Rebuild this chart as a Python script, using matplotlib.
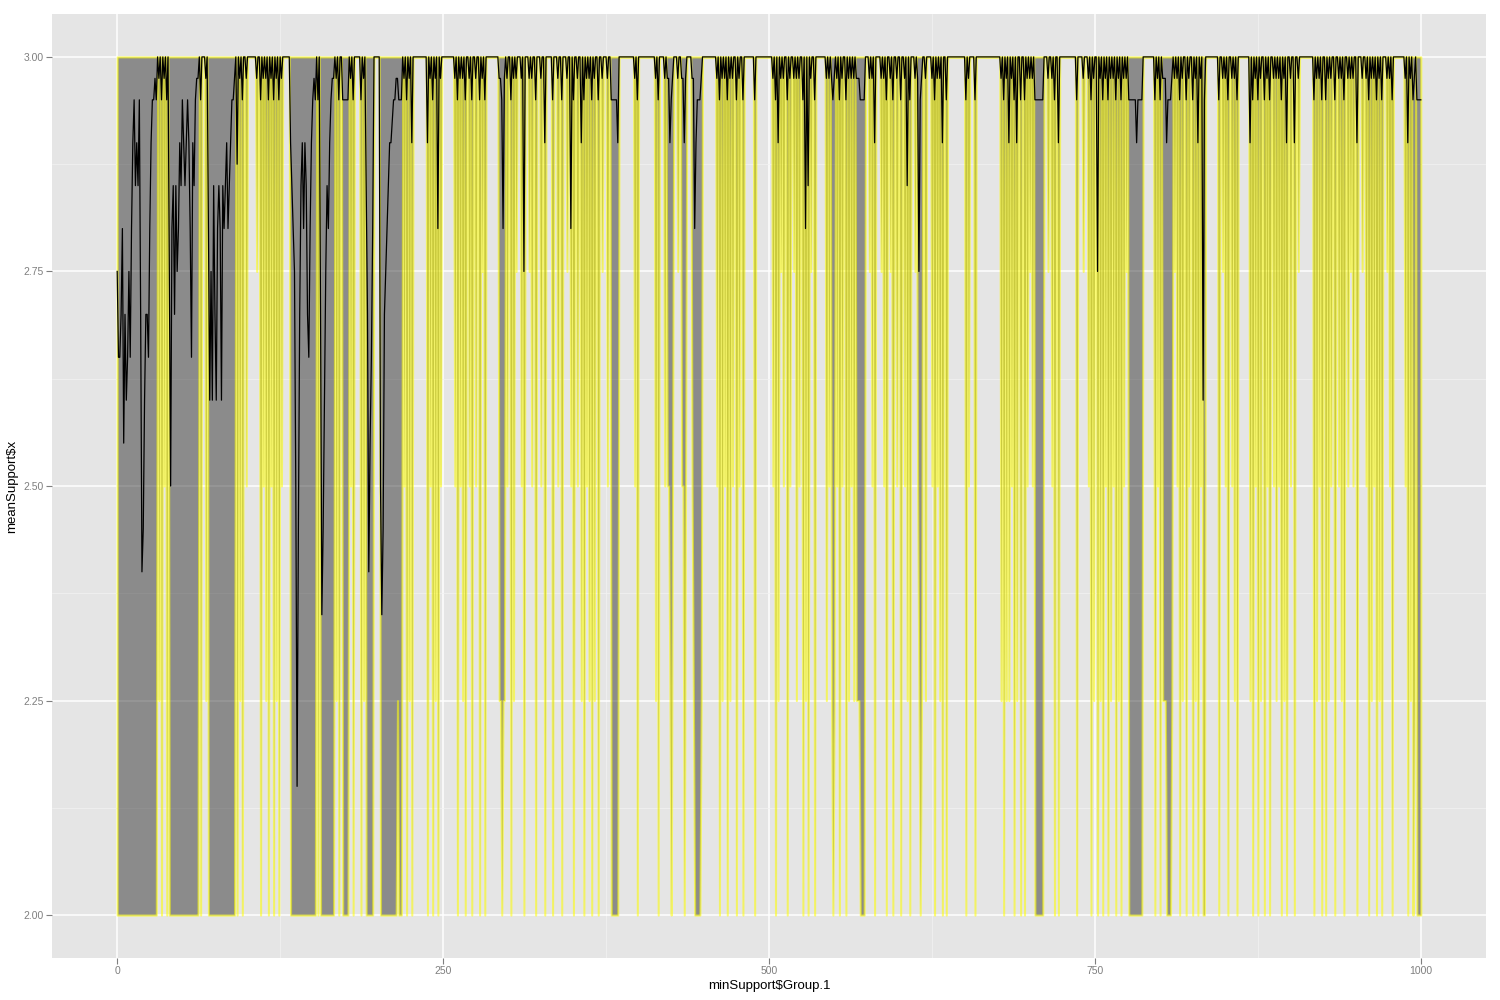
import numpy as np
import matplotlib.pyplot as plt

plt.rcParams.update({"font.family": ["Liberation Sans", "DejaVu Sans"]})

# =============================================================================
# data (x = minSupport$Group.1, 0..1000)
# =============================================================================

x_first, x_last = 0, 1000
support_max = 3.0          # upper edge of the ribbon

# runs where the minimum sits at 2.00 (the wide grey blocks)
block_start = [0, 40, 70, 133, 156, 173, 191, 202, 216, 379, 443, 570, 704, 776, 805, 997]
block_end   = [29, 62, 90, 152, 166, 177, 196, 214, 218, 384, 447, 573, 710, 786, 808, 1000]
block_mean  = 2.95

# single points where the minimum dips, grouped by the level it reaches
spikes_200 = [30, 34, 38, 64, 92, 96, 110, 116, 120, 124, 154, 170, 181, 187, 222, 226,
              238, 242, 246,
              261, 267, 272, 278, 282, 295, 302, 312, 321, 328, 334, 341, 350, 358, 364,
              369, 399, 415, 425, 435, 462, 468, 475, 480, 489,
              505, 514, 526, 530, 535, 549, 554, 559, 581, 590, 595, 601, 608, 616, 627,
              633, 636, 651, 658, 680, 688, 693, 696, 719, 722, 736, 747, 752, 756,
              760, 766, 770, 796, 800, 815, 820, 825, 829, 833, 834, 845, 852, 859, 871,
              875, 880, 884, 893, 897, 903, 918, 924, 927, 934, 941, 951, 960, 966, 970,
              978, 990, 994]
spikes_225 = [32, 68, 94, 114, 122, 168, 189, 215, 224, 244,
              265, 293, 294, 296, 297, 304, 356, 362, 366, 413, 424, 442, 448, 464, 470,
              507, 521, 528, 544, 548, 550, 561, 565, 567, 568, 569, 606, 615, 617, 620,
              631, 678, 682, 684, 690, 749, 754,
              762, 768, 802, 803, 804, 809, 817, 827, 857, 869, 877, 889, 895, 920, 929,
              939, 962, 968, 992, 995]
spikes_250 = [36, 99, 112, 118, 126, 179, 220, 240, 248,
              259, 263, 270, 275, 299, 310, 318, 325, 338, 348, 353, 360, 376, 397, 420,
              422, 423, 426, 433, 434, 436, 441, 460, 466, 472, 477,
              503, 511, 516, 523, 546, 552, 556, 563, 579, 588, 598, 604, 614, 625, 629,
              653, 686, 698, 702, 717, 745,
              758, 764, 772, 798, 813, 822, 831, 850, 855, 873, 882, 887, 891, 900, 922,
              931, 937, 944, 948, 958, 964, 976, 988]
spikes_275 = [107, 280, 306, 316, 345, 372, 430, 509, 519, 532, 577, 586, 593, 612,
              700, 714, 741, 774, 811, 848, 906, 946, 955, 974]

# meanSupport at those dips (small notches below 3.00)
notch_200 = 2.95
notch_other = 2.975

# meanSupport for x = 0..90, where it wanders far below 3
mean_head = [
    2.75, 2.65, 2.65, 2.7, 2.8, 2.55, 2.7, 2.6, 2.65, 2.75,
    2.65, 2.8, 2.9, 2.95, 2.85, 2.9, 2.85, 2.95, 2.7, 2.4,
    2.45, 2.6, 2.7, 2.7, 2.65, 2.8, 2.9, 2.95, 2.95, 2.975,
    2.95, 3.0, 2.975, 3.0, 2.95, 3.0, 2.975, 3.0, 2.95, 3.0,
    2.75, 2.5, 2.8, 2.85, 2.7, 2.85, 2.75, 2.8, 2.9, 2.85,
    2.95, 2.9, 2.85, 2.9, 2.95, 2.9, 2.8, 2.65, 2.9, 2.85,
    2.95, 2.975, 2.975, 3.0, 2.95, 3.0, 3.0, 3.0, 2.975, 3.0,
    2.8, 2.6, 2.75, 2.6, 2.85, 2.7, 2.6, 2.8, 2.85, 2.8,
    2.6, 2.85, 2.8, 2.85, 2.9, 2.8, 2.85, 2.9, 2.95, 2.95,
    2.975,
]

# deeper dips of meanSupport further right
dip_x = [92, 133, 134, 135, 136, 137, 138, 139, 140, 141, 142, 143, 144, 145, 146, 147,
         148, 149, 151, 156, 157, 158, 159, 160, 161, 162, 163, 165, 166,
         191, 192, 193, 194, 195, 196, 202, 203, 204, 205, 206, 207, 208, 209, 210,
         211, 214, 226, 238, 246, 296, 312, 328, 348, 356, 384, 424, 435, 443, 444,
         507, 528, 530, 581, 606, 615, 633, 684, 690, 722, 752, 782, 805, 829, 833,
         869, 897, 903, 951, 990]
dip_v = [2.875, 2.9, 2.85, 2.8, 2.75, 2.5, 2.15, 2.45, 2.7, 2.85, 2.9, 2.8, 2.9, 2.85,
         2.7, 2.65, 2.8, 2.9, 2.975, 2.7, 2.35, 2.45, 2.6, 2.75, 2.85, 2.8, 2.9, 2.975,
         2.975, 2.85, 2.7, 2.4, 2.55, 2.65, 2.8, 2.5, 2.35, 2.45, 2.7, 2.75, 2.8, 2.85,
         2.9, 2.9, 2.925, 2.975, 2.9, 2.9, 2.8, 2.8, 2.75, 2.9, 2.8, 2.9, 2.9, 2.9, 2.9,
         2.8, 2.9, 2.9, 2.8, 2.85, 2.9, 2.85, 2.75, 2.9, 2.9, 2.9, 2.9, 2.75, 2.9, 2.9,
         2.9, 2.6, 2.9, 2.9, 2.9, 2.9, 2.9]


# =============================================================================
# build the series
# =============================================================================

xs = np.arange(x_first, x_last + 1)
lo = np.full(xs.size, support_max)
hi = np.full(xs.size, support_max)
mean = np.full(xs.size, support_max)

for level, pts in [(2.0, spikes_200), (2.25, spikes_225), (2.5, spikes_250), (2.75, spikes_275)]:
    for p in pts:
        lo[p] = level
        mean[p] = notch_200 if level == 2.0 else notch_other

for s, e in zip(block_start, block_end):
    lo[s:e + 1] = 2.0
    mean[s:e + 1] = block_mean

mean[:len(mean_head)] = mean_head
mean[dip_x] = dip_v


# =============================================================================
# plot
# =============================================================================

fig = plt.figure(figsize=(15, 10), dpi=100)
ax = fig.add_axes([52 / 1500, 42 / 1000, 1434 / 1500, 944 / 1000])
ax.set_facecolor("#E5E5E5")

ax.fill_between(xs, lo, hi, facecolor=(0.2, 0.2, 0.2, 0.5),
                edgecolor=(1.0, 1.0, 0.0, 0.55), linewidth=1.5, zorder=2)
ax.plot(xs, mean, color="black", linewidth=0.9, zorder=3)

ax.set_xlim(-50, 1050)
ax.set_ylim(1.95, 3.05)
ax.set_xticks([0, 250, 500, 750, 1000])
ax.set_xticks([125, 375, 625, 875], minor=True)
ax.set_yticks([2.0, 2.25, 2.5, 2.75, 3.0])
ax.set_yticklabels(["2.00", "2.25", "2.50", "2.75", "3.00"])
ax.set_yticks([2.125, 2.375, 2.625, 2.875], minor=True)

ax.set_axisbelow(True)
ax.grid(which="major", color="white", linewidth=1.1)
ax.grid(which="minor", color="#F2F2F2", linewidth=0.5)
for sp in ax.spines.values():
    sp.set_visible(False)

ax.tick_params(which="major", direction="out", length=4, width=0.8,
               color="#7F7F7F", labelcolor="#7F7F7F", labelsize=7.5, pad=2)
ax.tick_params(which="minor", length=0)

ax.set_xlabel(r"minSupport\$Group.1", fontsize=9.5, labelpad=3)
ax.set_ylabel(r"meanSupport\$x", fontsize=9.5, labelpad=4)

plt.savefig("out.png", dpi=100)
plt.close()
